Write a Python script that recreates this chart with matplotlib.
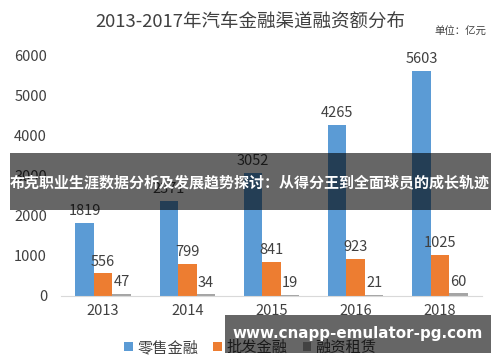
import matplotlib
matplotlib.use("Agg")
import matplotlib.pyplot as plt
import numpy as np
from matplotlib.patches import Rectangle

plt.rcParams['font.family'] = ['Noto Sans CJK SC', 'DejaVu Sans']

# ---------------------------------------------------------------------------
# Data
# ---------------------------------------------------------------------------
years     = ["2013", "2014", "2015", "2016", "2018"]
retail    = [1819, 2371, 3052, 4265, 5603]
wholesale = [556, 799, 841, 923, 1025]
leasing   = [47, 34, 19, 21, 60]
series_names = ["零售金融", "批发金融", "融资租赁"]

TITLE  = "2013-2017年汽车金融渠道融资额分布"
UNIT   = "单位：亿元"
BANNER = "布克职业生涯数据分析及发展趋势探讨：从得分王到全面球员的成长轨迹"
WATERMARK = "www.cnapp-emulator-pg.com"

# Colours (Excel default palette)
BLUE   = "#5B9BD5"
ORANGE = "#ED7D31"
GREY   = "#A5A5A5"
TXT    = "#404040"

BAR_W = 0.22
FS_TICK = 10.5

fig = plt.figure(figsize=(5.0, 3.62), dpi=100)
ax = fig.add_axes([0.122, 0.183, 0.842, 0.665])

x = np.arange(len(years))
series = [retail, wholesale, leasing]
colors = [BLUE, ORANGE, GREY]
for i, (vals, col, name) in enumerate(zip(series, colors, series_names)):
    pos = x + (i - 1) * BAR_W
    ax.bar(pos, vals, width=BAR_W, color=col, label=name, zorder=2)
    for px, v in zip(pos, vals):
        ax.text(px, v + 120, str(v), ha="center", va="bottom",
                fontsize=FS_TICK, color=TXT)

ax.set_xlim(-0.5, len(years) - 0.5)
ax.set_ylim(0, 6000)
ax.set_yticks(range(0, 6001, 1000))
ax.set_xticks(x)
ax.set_xticklabels(years)
ax.tick_params(axis="both", length=0, labelsize=FS_TICK, colors=TXT)
ax.tick_params(axis="y", pad=10)
ax.tick_params(axis="x", pad=6)
for s in ("top", "right", "left"):
    ax.spines[s].set_visible(False)
ax.spines["bottom"].set_color("#D9D9D9")

fig.text(0.5, 0.937, TITLE, ha="center", va="center", fontsize=13.3, color=TXT)
fig.text(0.972, 0.912, UNIT, ha="right", va="center", fontsize=7.5, color=TXT)

ax.legend(loc="center", bbox_to_anchor=(0.45, -0.215), ncol=3, frameon=False,
          fontsize=11, handlelength=0.55, handleheight=0.55, handletextpad=0.3,
          columnspacing=1.0, labelcolor=TXT)

# Overlays: banner across the middle and watermark box at the bottom
fig.patches.append(Rectangle((0.02, 0.42), 0.962, 0.157, transform=fig.transFigure,
                             facecolor="black", alpha=0.6, zorder=10))
fig.text(0.5, 0.497, BANNER, ha="center", va="center", fontsize=10.8,
         fontweight="bold", color="white", zorder=11)
fig.patches.append(Rectangle((0.45, 0.025), 0.532, 0.105, transform=fig.transFigure,
                             facecolor="black", alpha=0.6, zorder=10))
fig.text(0.715, 0.078, WATERMARK, ha="center", va="center", fontsize=10.9,
         fontweight="bold", color="white", family="DejaVu Sans", zorder=11)

fig.savefig("out.png", dpi=100)
